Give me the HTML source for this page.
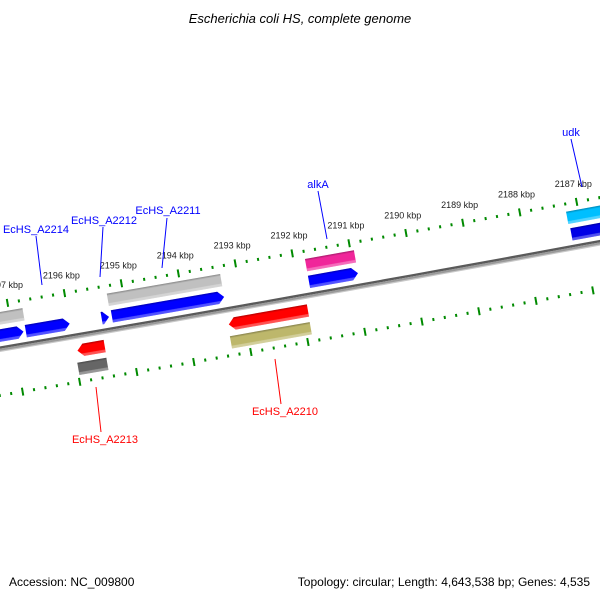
<!DOCTYPE html>
<html><head><meta charset="utf-8"><style>
html,body{margin:0;padding:0;background:#fff;}
svg{display:block;font-family:"Liberation Sans","DejaVu Sans",sans-serif;}
</style></head><body>
<svg id="map" width="600" height="600" viewBox="0 0 600 600" xmlns="http://www.w3.org/2000/svg">
<defs>
<linearGradient id="shade" x1="0" y1="0" x2="0" y2="1">
<stop offset="0" stop-color="#000" stop-opacity="0.3"/>
<stop offset="0.18" stop-color="#000" stop-opacity="0"/>
<stop offset="0.75" stop-color="#fff" stop-opacity="0"/>
<stop offset="0.8" stop-color="#fff" stop-opacity="0.3"/>
<stop offset="1" stop-color="#fff" stop-opacity="0.35"/>
</linearGradient>
</defs>
<rect x="0" y="0" width="600" height="600" fill="#fff"/>
<text x="300" y="23" text-anchor="middle" font-size="13" font-style="italic" fill="#000">Escherichia coli HS, complete genome</text>
<g id="rings"></g>
<g id="backbone"></g>
<g id="features"></g>
<g font-size="11">
<g><line x1="36" y1="236" x2="42" y2="285" stroke="#00f" stroke-width="1"/><text x="36" y="233" text-anchor="middle" fill="#00f">EcHS_A2214</text></g>
<g><line x1="103" y1="227" x2="100" y2="277" stroke="#00f" stroke-width="1"/><text x="104" y="224" text-anchor="middle" fill="#00f">EcHS_A2212</text></g>
<g><line x1="167" y1="218" x2="162" y2="268" stroke="#00f" stroke-width="1"/><text x="168" y="214" text-anchor="middle" fill="#00f">EcHS_A2211</text></g>
<g><line x1="318" y1="191" x2="327" y2="239" stroke="#00f" stroke-width="1"/><text x="318" y="188" text-anchor="middle" fill="#00f">alkA</text></g>
<g><line x1="571" y1="139" x2="582" y2="187" stroke="#00f" stroke-width="1"/><text x="571" y="136" text-anchor="middle" fill="#00f">udk</text></g>
<g><line x1="96" y1="387" x2="101" y2="432" stroke="#f00" stroke-width="1"/><text x="105" y="443" text-anchor="middle" fill="#f00">EcHS_A2213</text></g>
<g><line x1="275" y1="359" x2="281" y2="404" stroke="#f00" stroke-width="1"/><text x="285" y="415" text-anchor="middle" fill="#f00">EcHS_A2210</text></g>
</g>
<text x="9" y="586" font-size="12" fill="#000">Accession: NC_009800</text>
<text x="590" y="586" text-anchor="end" font-size="12" fill="#000">Topology: circular; Length: 4,643,538 bp; Genes: 4,535</text>
</svg>
<script>
// ---- data ----
const genomeLength = 4643538;
const tickStartKbp = 2185;
const tickEndKbp = 2199;
const labelledTicksKbp = [2186,2187,2188,2189,2190,2191,2192,2193,2194,2195,2196,2197];
const featureNames = ["cds-a","cds-echs-a2214","cds-echs-a2212","cds-echs-a2211","cds-alka","cds-udk",
  "gene-a","gene-echs-a2211","gene-alka","gene-udk",
  "cds-echs-a2213","cds-echs-a2210","gene-echs-a2213","gene-echs-a2210"];
const featureStartKbp = [2196.81,2196.00,2195.31,2193.29,2190.94,2186.0,
  2196.76,2193.29,2190.94,2186.0,
  2195.47,2191.905,2195.476,2191.91];
const featureEndKbp = [2198.0,2196.77,2195.44,2195.26,2191.80,2187.19,
  2198.0,2195.28,2191.80,2187.21,
  2195.947,2193.293,2195.985,2193.31];
const featureSlot = [1,1,1,1,1,1, 2,2,2,2, -1,-1,-2,-2];
const featureArrow = [1,1,1,1,1,1, 0,0,0,0, 1,1,0,0];
const featureColor = ["#0000ff","#0000ff","#0000ff","#0000ff","#0000ff","#0000e6",
  "#c0c0c0","#c0c0c0","#f0269a","#00bfff",
  "#ff0000","#ff0000","#666666","#bdb76b"];

// ---- geometry ----
const NS = "http://www.w3.org/2000/svg";
const R0 = 42761;
const upperOff = -44, lowerOff = 46;
function theta(kbp){ return 2*Math.PI*kbp*1000/genomeLength; }
const ta = theta(2190), ra = R0 + upperOff;
const CX = 406 - ra*Math.sin(ta), CY = 233 + ra*Math.cos(ta);
function pt(kbp, off){ const t = theta(kbp), r = R0 + off; return [CX + r*Math.sin(t), CY - r*Math.cos(t)]; }
function mk(tag, attrs, parent){ const e = document.createElementNS(NS, tag); for (const k in attrs) e.setAttribute(k, attrs[k]); parent.appendChild(e); return e; }

// ---- tick rings ----
const rings = document.getElementById('rings');
[upperOff, lowerOff].forEach(function(off, ri){
  for (let i = tickStartKbp*5; i <= tickEndKbp*5; i++){
    const kbp = i/5, major = (i % 5 === 0);
    const len = major ? 8 : 3;
    const a = pt(kbp, off - len/2), b = pt(kbp, off + len/2);
    const l = mk('line', {x1:a[0], y1:a[1], x2:b[0], y2:b[1], stroke:'#008a00', 'stroke-width':2}, rings);
    
    
  }
});
labelledTicksKbp.forEach(function(kbp){
  const p = pt(kbp, upperOff - 18);
  const t = mk('text', {x:p[0], y:p[1]+3, 'text-anchor':'middle', 'font-size':9, fill:'#222'}, rings);
  t.textContent = kbp + ' kbp';
  
  
});

// ---- backbone ----
const bb = document.getElementById('backbone');
function arcPath(off){ let d = ''; for (let k = 2184; k <= 2200; k += 0.5){ const p = pt(k, off); d += (d ? 'L' : 'M') + p[0].toFixed(2) + ',' + p[1].toFixed(2); } return d; }
[[ -1.2, '#5a5a5a', 2.4 ], [ 1.2, '#9a9a9a', 2.6 ], [ 2.6, '#c8c8c8', 1.2 ]].forEach(function(s){
  const p = mk('path', {d:arcPath(s[0]), fill:'none', stroke:s[1], 'stroke-width':s[2]}, bb);
  
  
});

// ---- features ----
const fg = document.getElementById('features');
const slotOff = {1:-13, 2:-30, '-1':15, '-2':33};
const H = 12.5, HEAD = 6;
for (let i = 0; i < featureNames.length; i++){
  const off = slotOff[featureSlot[i]];
  const pR = pt(featureStartKbp[i], off); // right end (lower bp)
  const pL = pt(featureEndKbp[i], off);   // left end
  const mx = (pR[0]+pL[0])/2, my = (pR[1]+pL[1])/2;
  const L = Math.hypot(pR[0]-pL[0], pR[1]-pL[1]);
  const ang = Math.atan2(pR[1]-pL[1], pR[0]-pL[0])*180/Math.PI;
  const g = mk('g', {transform:'translate(' + mx.toFixed(2) + ',' + my.toFixed(2) + ') rotate(' + ang.toFixed(3) + ')'}, fg);
  
  
  const x0 = -L/2, x1 = L/2, y0 = -H/2, y1 = H/2;
  let d;
  const head = Math.min(HEAD, L);
  if (featureArrow[i] && featureSlot[i] > 0){
    d = 'M'+x0+','+y0+'L'+(x1-head)+','+y0+'L'+x1+',0L'+(x1-head)+','+y1+'L'+x0+','+y1+'Z';
  } else if (featureArrow[i]){
    d = 'M'+x1+','+y0+'L'+(x0+head)+','+y0+'L'+x0+',0L'+(x0+head)+','+y1+'L'+x1+','+y1+'Z';
  } else {
    d = 'M'+x0+','+y0+'L'+x1+','+y0+'L'+x1+','+y1+'L'+x0+','+y1+'Z';
  }
  const body = mk('path', {d:d, fill:featureColor[i]}, g);
  
  
  const sh = mk('path', {d:d, fill:'url(#shade)'}, g);
  
  
}
</script>
</body></html>
